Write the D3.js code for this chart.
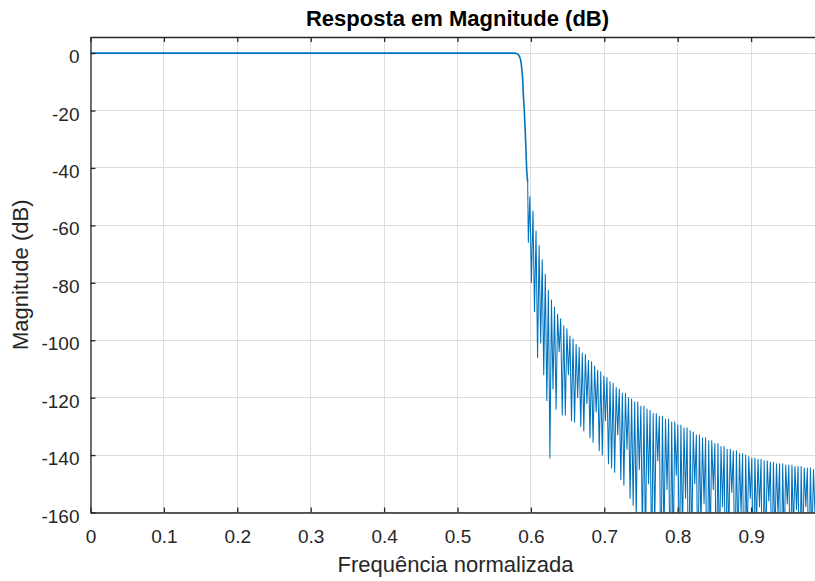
<!DOCTYPE html>
<html>
<head>
<meta charset="utf-8">
<script src="https://cdn.jsdelivr.net/npm/d3@7/dist/d3.min.js"></script>
<style>
  body { margin: 0; background: #ffffff; }
  svg { display: block; }
  text { font-family: "Liberation Sans", Arial, sans-serif; }
</style>
</head>
<body>
<svg id="chart" width="815" height="581"></svg>
<script>
// Axis ticks
const xTicks = [0, 0.1, 0.2, 0.3, 0.4, 0.5, 0.6, 0.7, 0.8, 0.9];
const xTickLabels = ["0", "0.1", "0.2", "0.3", "0.4", "0.5", "0.6", "0.7", "0.8", "0.9"];
const yTicks = [0, -20, -40, -60, -80, -100, -120, -140, -160];
const yTickLabels = ["0", "-20", "-40", "-60", "-80", "-100", "-120", "-140", "-160"];

// Passband and transition band (normalized frequency, dB)
const passFreq = [0, 0.575, 0.580, 0.583, 0.585, 0.5865, 0.5878, 0.5888, 0.5896, 0.591, 0.5924, 0.5943, 0.5956];
const passDb   = [0, 0, -0.1, -0.5, -1.5, -3, -6, -9, -14, -20, -28, -41, -45];

// Stopband: zeros of the response (frequency and depth in dB)
const nullFreq = [
  0.5965, 0.6007, 0.6049, 0.6091, 0.6133, 0.6175, 0.6217, 0.6259, 0.6301, 0.6343,
  0.6385, 0.6427, 0.6469, 0.6511, 0.6553, 0.6595, 0.6637, 0.6679, 0.6721, 0.6763,
  0.6805, 0.6847, 0.6889, 0.6931, 0.6973, 0.7015, 0.7057, 0.7099, 0.7141, 0.7183,
  0.7225, 0.7267, 0.7309, 0.7351, 0.7393, 0.7435, 0.7477, 0.7519, 0.7561, 0.7603,
  0.7645, 0.7687, 0.7729, 0.7771, 0.7813, 0.7855, 0.7897, 0.7939, 0.7981, 0.8023,
  0.8065, 0.8107, 0.8149, 0.8191, 0.8233, 0.8275, 0.8317, 0.8359, 0.8401, 0.8443,
  0.8485, 0.8527, 0.8569, 0.8611, 0.8653, 0.8695, 0.8737, 0.8779, 0.8821, 0.8863,
  0.8905, 0.8947, 0.8989, 0.9031, 0.9073, 0.9115, 0.9157, 0.9199, 0.9241, 0.9283,
  0.9325, 0.9367, 0.9409, 0.9451, 0.9493, 0.9535, 0.9577, 0.9619, 0.9661, 0.9703,
  0.9745, 0.9787, 0.9829, 0.9871, 0.9913
];
const nullDb = [
  -66, -80, -90, -106, -101, -112, -121, -141, -117, -124,
  -104, -126, -126, -112, -128, -128.5, -120, -130, -131.5, -122,
  -134, -135.5, -125, -138.5, -140, -128, -143, -144.5, -146, -133,
  -148.5, -150.5, -138, -155, -157.5, -162, -145, -168, -172, -150,
  -180, -165, -142, -185, -170, -152, -190, -175, -147, -182,
  -168, -155, -195, -172, -150, -185, -165, -157, -200, -170,
  -152, -188, -176, -158, -192, -168, -153, -183, -172, -160,
  -195, -170, -155, -186, -165, -158, -198, -174, -156, -184,
  -169, -161, -193, -171, -157, -187, -166, -159, -196, -173,
  -158, -185, -170, -161, -175
];
// Sidelobe peak (dB) between each zero and the next
const peakDb = [
  -50, -55, -62, -67, -72, -77, -82.5, -86, -88.5, -91,
  -92.5, -95, -96, -98.5, -99.5, -101.5, -102.5, -104.5, -105, -107,
  -107.5, -109, -110.5, -111, -112.5, -113, -114.5, -115, -116.5, -117,
  -118.5, -118.5, -120, -120.5, -121.5, -121.5, -123, -123, -124, -124.5,
  -125.5, -125.5, -126.5, -126.5, -127.5, -127.5, -128.5, -128.5, -129.5, -129.5,
  -130.5, -130.5, -131.5, -132, -133, -133, -134, -134, -135, -135,
  -136, -136, -137, -137, -138, -138, -138.5, -138.5, -139.5, -139.5,
  -140, -140.5, -141, -141, -141.5, -141.5, -142, -142, -142.5, -142.5,
  -143, -143, -143, -143.5, -143.5, -143.5, -144, -144, -144, -144.5,
  -144.5, -144.5, -145, -145
];

const titleText = "Resposta em Magnitude (dB)";
const xLabelText = "Frequência normalizada";
const yLabelText = "Magnitude (dB)";

// ---- layout ----
const plot = { left: 90.5, right: 824.5, top: 37, bottom: 512.5 };
const axisColor = "#262626";
const gridColor = "#dedede";
const lineColor = "#0072BD";

const svg = d3.select("#chart");

const x = d3.scaleLinear().domain([0, 1]).range([plot.left, plot.right]);
const y = d3.scaleLinear().domain([-160, 5.6]).range([plot.bottom, plot.top]);

svg.append("rect").attr("width", 815).attr("height", 581).attr("fill", "#ffffff");

// grid
const grid = svg.append("g").attr("shape-rendering", "crispEdges");
grid.selectAll("line.gx").data(xTicks).join("line")
  .attr("class", "gx")
  .attr("x1", d => x(d)).attr("x2", d => x(d))
  .attr("y1", plot.top).attr("y2", plot.bottom)
  .attr("stroke", gridColor).attr("stroke-width", 1);
grid.selectAll("line.gy").data(yTicks).join("line")
  .attr("class", "gy")
  .attr("x1", plot.left).attr("x2", plot.right)
  .attr("y1", d => y(d)).attr("y2", d => y(d))
  .attr("stroke", gridColor).attr("stroke-width", 1);

// response curve: one series, passband part drawn a little heavier
const passPts = passFreq.map((f, i) => ({ f, db: passDb[i] }));
const stopPts = [passPts[passPts.length - 1]];
peakDb.forEach((p, i) => {
  stopPts.push({ f: nullFreq[i], db: nullDb[i] });
  stopPts.push({ f: (nullFreq[i] + nullFreq[i + 1]) / 2, db: p });
});
stopPts.push({ f: nullFreq[nullFreq.length - 1], db: nullDb[nullDb.length - 1] });

svg.append("clipPath").attr("id", "plotClip")
  .append("rect")
  .attr("x", plot.left).attr("y", plot.top)
  .attr("width", plot.right - plot.left).attr("height", plot.bottom - plot.top);

const line = d3.line().x(d => x(d.f)).y(d => y(d.db));
const curve = svg.append("g").attr("clip-path", "url(#plotClip)")
  .attr("fill", "none").attr("stroke", lineColor).attr("stroke-linejoin", "round");

curve.append("path").datum(stopPts)
  .attr("stroke-width", 1.05)
  .attr("d", line);
curve.append("path").datum(passPts)
  .attr("stroke-width", 1.6)
  .attr("d", line);

// axes
function styleAxis(g) {
  g.selectAll(".domain").attr("stroke", axisColor).attr("stroke-width", 1.3);
  g.selectAll(".tick line").attr("stroke", axisColor).attr("stroke-width", 1.3);
  g.selectAll(".tick text")
    .attr("fill", axisColor)
    .style("font-size", "19px");
}

const xAxis = svg.append("g")
  .attr("transform", `translate(0,${plot.bottom})`)
  .call(d3.axisBottom(x).tickValues(xTicks)
    .tickFormat((d, i) => xTickLabels[i])
    .tickSizeInner(-5).tickSizeOuter(0).tickPadding(17.5));
styleAxis(xAxis);

const xTop = svg.append("g")
  .attr("transform", `translate(0,${plot.top})`)
  .call(d3.axisTop(x).tickValues(xTicks).tickFormat("")
    .tickSizeInner(-5).tickSizeOuter(0));
styleAxis(xTop);

const yAxis = svg.append("g")
  .attr("transform", `translate(${plot.left},0)`)
  .call(d3.axisLeft(y).tickValues(yTicks)
    .tickFormat((d, i) => yTickLabels[i])
    .tickSizeInner(-5).tickSizeOuter(0).tickPadding(11));
styleAxis(yAxis);
yAxis.selectAll(".tick text").attr("dy", "0.5em");

// titles
svg.append("text")
  .attr("x", (plot.left + plot.right) / 2).attr("y", 26)
  .attr("text-anchor", "middle")
  .attr("fill", "#000000")
  .style("font-size", "22px").style("font-weight", "bold")
  .text(titleText);

svg.append("text")
  .attr("x", (plot.left + plot.right) / 2 - 2).attr("y", 571.5)
  .attr("text-anchor", "middle")
  .attr("fill", axisColor)
  .style("font-size", "22px")
  .text(xLabelText);

svg.append("text")
  .attr("transform", `translate(28,${(plot.top + plot.bottom) / 2}) rotate(-90)`)
  .attr("text-anchor", "middle")
  .attr("fill", axisColor)
  .style("font-size", "22px")
  .text(yLabelText);
</script>
</body>
</html>
